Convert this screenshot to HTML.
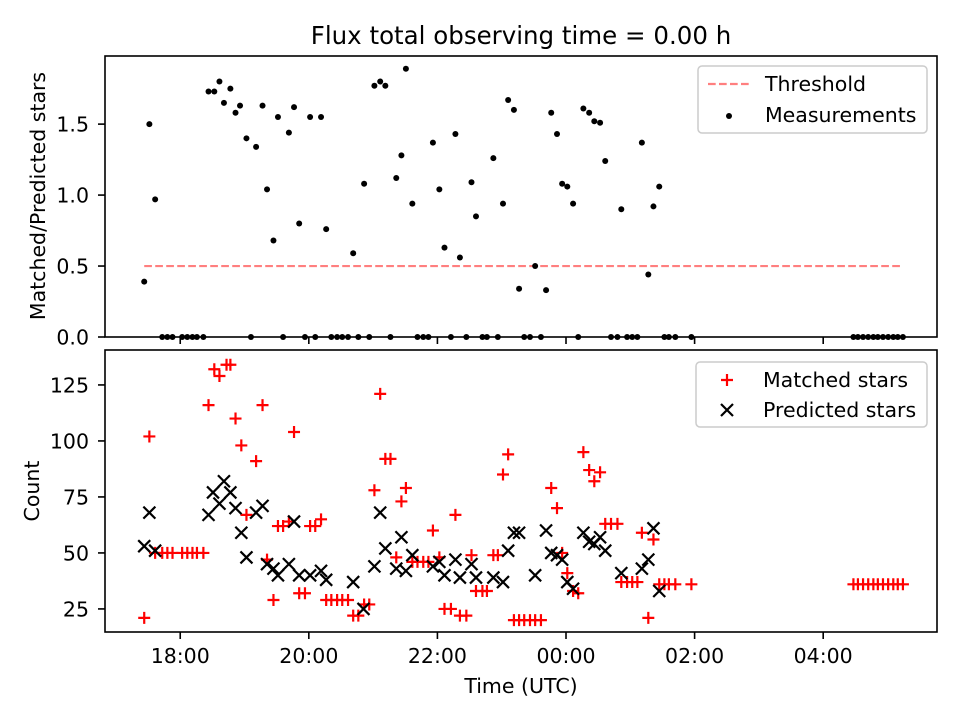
<!DOCTYPE html>
<html><head><meta charset="utf-8">
<style>
html,body{margin:0;padding:0;background:#fff;}
svg{display:block;font-family:"DejaVu Sans","Liberation Sans",sans-serif;}
</style></head>
<body>
<svg id="chart" width="960" height="720" viewBox="0 0 960 720" xmlns="http://www.w3.org/2000/svg"></svg>
<script>
// ---- data (time in hours since 00:00 of first day; >24 = next day) ----
const ratioTimes = [17.44,17.52,17.61,17.72,17.80,17.88,18.03,18.11,18.19,18.26,18.36,18.44,18.53,18.61,18.68,18.78,18.86,18.93,19.03,19.10,19.18,19.28,19.35,19.45,19.52,19.60,19.69,19.77,19.85,19.94,20.02,20.10,20.19,20.27,20.35,20.44,20.52,20.61,20.69,20.77,20.86,20.94,21.02,21.11,21.19,21.27,21.36,21.44,21.51,21.61,21.69,21.78,21.86,21.93,22.03,22.11,22.21,22.28,22.35,22.45,22.53,22.60,22.70,22.77,22.87,22.94,23.02,23.10,23.19,23.27,23.35,23.44,23.52,23.61,23.69,23.77,23.86,23.94,24.02,24.11,24.19,24.27,24.36,24.44,24.53,24.61,24.70,24.80,24.86,24.95,25.03,25.11,25.18,25.28,25.36,25.45,25.53,25.60,25.70,25.95,28.47,28.54,28.62,28.70,28.78,28.85,28.93,29.01,29.09,29.16,29.24];
const ratioValues = [0.39,1.50,0.97,0,0,0,0,0,0,0,0,1.73,1.73,1.80,1.65,1.75,1.58,1.63,1.40,0,1.34,1.63,1.04,0.68,1.55,0,1.44,1.62,0.80,0,1.55,0,1.55,0.76,0,0,0,0,0.59,0,1.08,0,1.77,1.80,1.77,0,1.12,1.28,1.89,0.94,0,0,0,1.37,1.04,0.63,0,1.43,0.56,0,1.09,0.85,0,0,1.26,0,0.94,1.67,1.60,0.34,0,0,0.50,0,0.33,1.58,1.43,1.08,1.06,0.94,0,1.61,1.58,1.52,1.51,1.24,0,0,0.90,0,0,0,1.37,0.44,0.92,1.06,0,0,0,0,0,0,0,0,0,0,0,0,0,0,0];
const threshold = 0.5;
const matchedTimes = [17.44,17.52,17.61,17.72,17.80,17.88,18.03,18.11,18.19,18.26,18.36,18.44,18.53,18.61,18.72,18.78,18.86,18.95,19.03,19.18,19.28,19.35,19.45,19.52,19.60,19.69,19.77,19.85,19.94,20.02,20.10,20.19,20.27,20.35,20.44,20.52,20.61,20.69,20.77,20.86,20.94,21.02,21.11,21.19,21.27,21.36,21.44,21.51,21.61,21.69,21.78,21.86,21.93,22.03,22.11,22.21,22.28,22.35,22.45,22.53,22.60,22.70,22.77,22.87,22.94,23.02,23.10,23.19,23.27,23.35,23.44,23.52,23.61,23.77,23.86,23.94,24.02,24.11,24.19,24.27,24.36,24.44,24.53,24.61,24.70,24.80,24.86,24.95,25.03,25.11,25.18,25.28,25.36,25.45,25.53,25.60,25.70,25.95,28.47,28.54,28.62,28.70,28.78,28.85,28.93,29.01,29.09,29.16,29.24];
const matchedValues = [21,102,50,50,50,50,50,50,50,50,50,116,132,129,134,134,110,98,67,91,116,47,29,62,62,64,104,32,32,62,62,65,29,29,29,29,29,22,22,27,27,78,121,92,92,48,73,79,46,46,46,46,60,48,25,25,67,22,22,49,33,33,33,49,49,85,94,20,20,20,20,20,20,79,70,50,41,33,32,95,87,82,86,63,63,63,37,37,37,37,59,21,56,36,36,36,36,36,36,36,36,36,36,36,36,36,36,36,36];
const predictedTimes = [17.44,17.52,17.61,18.44,18.51,18.61,18.68,18.78,18.86,18.95,19.03,19.18,19.28,19.35,19.45,19.52,19.69,19.77,19.85,20.02,20.19,20.27,20.69,20.85,21.02,21.11,21.19,21.36,21.44,21.51,21.61,21.93,22.03,22.11,22.28,22.35,22.53,22.60,22.87,23.02,23.10,23.19,23.27,23.52,23.69,23.77,23.86,23.94,24.02,24.11,24.27,24.36,24.44,24.53,24.61,24.86,25.18,25.28,25.36,25.45];
const predictedValues = [53,68,51,67,77,72,82,77,70,59,48,68,71,45,43,40,45,64,40,40,42,38,37,25,44,68,52,43,57,42,49,44,46,40,47,39,45,39,39,37,51,59,59,40,60,50,49,47,37,34,59,55,54,57,51,41,43,47,61,33];
const xTickValues = [18,20,22,24,26,28];
const xTickLabels = ["18:00","20:00","22:00","00:00","02:00","04:00"];
const topTickValues = [0,0.5,1.0,1.5];
const topTickLabels = ["0.0","0.5","1.0","1.5"];
const botTickValues = [25,50,75,100,125];
const botTickLabels = ["25","50","75","100","125"];

// ---- layout ----
const L=105,R=937, T1=56,B1=337, T2=350,B2=632;
const X0=16.83,X1=29.77;
const FS=20.5;
const sx=t=>L+(t-X0)/(X1-X0)*(R-L);
const sy1=v=>B1-(v-0)/(1.98-0)*(B1-T1);
const sy2=v=>B2-(v-14.7)/(140.6-14.7)*(B2-T2);
const NS="http://www.w3.org/2000/svg";
const svg=document.getElementById('chart');
function mk(tag,attrs,parent){const e=document.createElementNS(NS,tag);for(const k in attrs)e.setAttribute(k,attrs[k]);(parent||svg).appendChild(e);return e;}
function txt(x,y,s,size,anchor,parent,rot){const e=mk('text',{x:x,y:y,'font-size':size,'text-anchor':anchor||'middle',fill:'#000'},parent);if(rot)e.setAttribute('transform','rotate(-90 '+x+' '+y+')');e.textContent=s;return e;}

// title
const title=txt(521,44,"Flux total observing time = 0.00 h",24.5);



// ---------- top panel ----------
const g1=mk('g',{});


const thr=mk('line',{x1:sx(17.44),x2:sx(29.24),y1:sy1(threshold),y2:sy1(threshold),stroke:'#ff7f7f','stroke-width':2.2,'stroke-dasharray':'7.7,3.3'},g1);


ratioTimes.forEach((t,i)=>{
  const c=mk('circle',{cx:sx(t),cy:sy1(ratioValues[i]),r:3,fill:'#000'},g1);
  
  
});
topTickValues.forEach((v,i)=>{
  const y=sy1(v);
  mk('line',{x1:L-7,x2:L,y1:y,y2:y,stroke:'#000','stroke-width':1.6},g1);
  const tl=txt(L-16,y+7.5,topTickLabels[i],FS,'end',g1);
  
  
});
xTickValues.forEach(v=>{mk('line',{x1:sx(v),x2:sx(v),y1:B1,y2:B1+7,stroke:'#000','stroke-width':1.6},g1);});
const f1=mk('rect',{x:L,y:T1,width:R-L,height:B1-T1,fill:'none',stroke:'#000','stroke-width':1.6},g1);


const yl1=txt(45,196,"Matched/Predicted stars",FS,'middle',g1,true);


const lg1=mk('g',{},g1);


mk('rect',{x:698,y:66,width:229,height:67,rx:4,fill:'#fff',stroke:'#ccc','stroke-width':1.5,'fill-opacity':0.8},lg1);
mk('line',{x1:708,x2:749,y1:84,y2:84,stroke:'#ff7f7f','stroke-width':2.2,'stroke-dasharray':'7.7,3.3'},lg1);
const le1=txt(765,91,"Threshold",FS,'start',lg1);


mk('circle',{cx:729,cy:116,r:3,fill:'#000'},lg1);
const le2=txt(765,122,"Measurements",FS,'start',lg1);



// ---------- bottom panel ----------
const g2=mk('g',{});


function plus(x,y,p,col){mk('path',{d:`M${x-6} ${y}H${x+6}M${x} ${y-6}V${y+6}`,stroke:col,'stroke-width':2.2,fill:'none'},p);}
function cross(x,y,p){mk('path',{d:`M${x-6} ${y-6}L${x+6} ${y+6}M${x-6} ${y+6}L${x+6} ${y-6}`,stroke:'#000','stroke-width':2.2,fill:'none'},p);}
const mg=mk('g',{},g2);


matchedTimes.forEach((t,i)=>plus(sx(t),sy2(matchedValues[i]),mg,'#ff0000'));
const pg=mk('g',{},g2);


predictedTimes.forEach((t,i)=>cross(sx(t),sy2(predictedValues[i]),pg));
botTickValues.forEach((v,i)=>{
  const y=sy2(v);
  mk('line',{x1:L-7,x2:L,y1:y,y2:y,stroke:'#000','stroke-width':1.6},g2);
  const tl=txt(L-16,y+7.5,botTickLabels[i],FS,'end',g2);
  
  
});
xTickValues.forEach((v,i)=>{
  mk('line',{x1:sx(v),x2:sx(v),y1:B2,y2:B2+7,stroke:'#000','stroke-width':1.6},g2);
  const tl=txt(sx(v),663,xTickLabels[i],FS,'middle',g2);
  
  
});
const f2=mk('rect',{x:L,y:T2,width:R-L,height:B2-T2,fill:'none',stroke:'#000','stroke-width':1.6},g2);


const yl2=txt(39,491,"Count",FS,'middle',g2,true);


const xl=txt(521,693,"Time (UTC)",FS,'middle',g2);


const lg2=mk('g',{},g2);


mk('rect',{x:696,y:362,width:231,height:65,rx:4,fill:'#fff',stroke:'#ccc','stroke-width':1.5,'fill-opacity':0.8},lg2);
plus(727,380,lg2,'#ff0000');
const le3=txt(763,387,"Matched stars",FS,'start',lg2);


cross(727,410,lg2);
const le4=txt(763,417,"Predicted stars",FS,'start',lg2);


</script>
</body></html>
